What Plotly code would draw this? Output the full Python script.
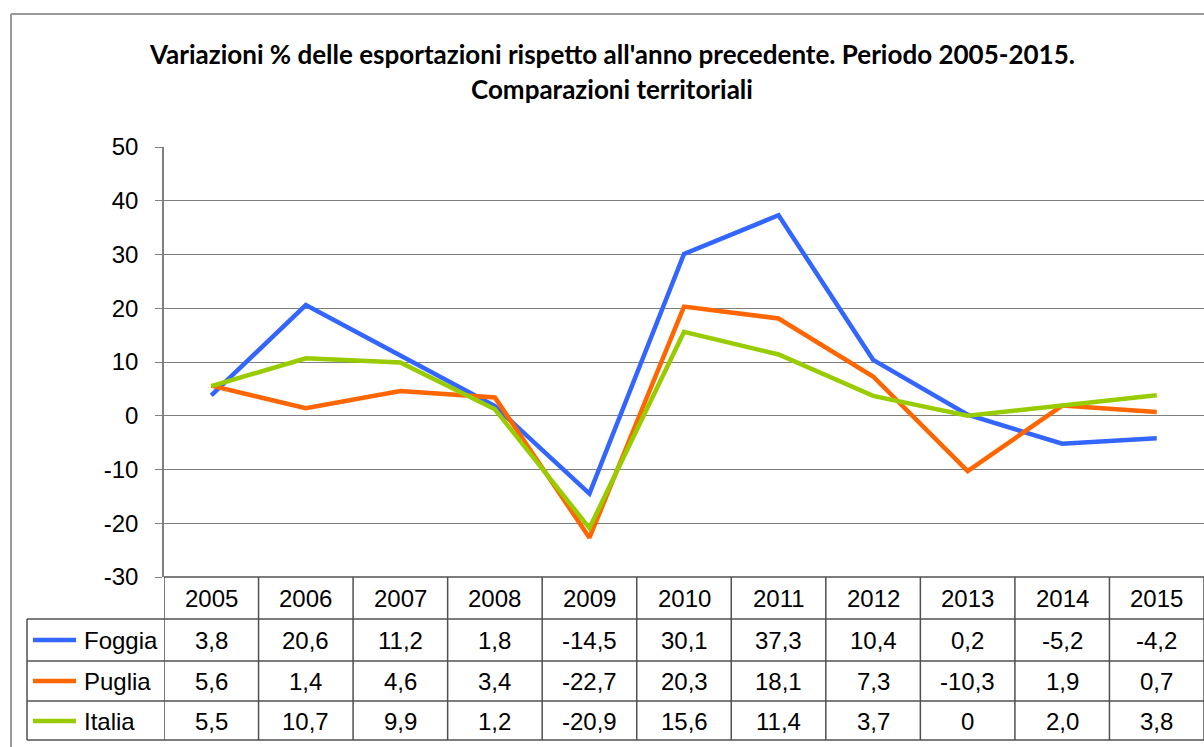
import plotly.graph_objects as go

years = [2005, 2006, 2007, 2008, 2009, 2010, 2011, 2012, 2013, 2014, 2015]
foggia = [3.8, 20.6, 11.2, 1.8, -14.5, 30.1, 37.3, 10.4, 0.2, -5.2, -4.2]
puglia = [5.6, 1.4, 4.6, 3.4, -22.7, 20.3, 18.1, 7.3, -10.3, 1.9, 0.7]
italia = [5.5, 10.7, 9.9, 1.2, -20.9, 15.6, 11.4, 3.7, 0, 2.0, 3.8]
series_names = ["Foggia", "Puglia", "Italia"]
series_colors = ["#3366FF", "#FF6600", "#99CC00"]
y_ticks = [50, 40, 30, 20, 10, 0, -10, -20, -30]
title1 = "Variazioni % delle esportazioni rispetto all'anno precedente. Periodo 2005-2015."
title2 = "Comparazioni territoriali"

W, H = 1204, 747
L, R, T, B = 164, 1204, 147, 577


def py(p):
    return (B - p) / (B - T)


def px(p):
    return (p - L) / (R - L)


def fmt(v):
    if v == 0:
        return "0"
    return ("%.1f" % v).replace(".", ",")


fig = go.Figure()
series = [foggia, puglia, italia]
for name, vals, col in zip(series_names, series, series_colors):
    fig.add_trace(go.Scatter(x=years, y=vals, mode="lines", name=name,
                             line=dict(color=col, width=4.5), showlegend=False))

shapes = []
annotations = []
txtfont = dict(family="Liberation Sans, Arial, sans-serif", size=24, color="#000")
linecol = "#505050"

# outer frame
shapes.append(dict(type="line", xref="paper", yref="paper", x0=px(11), x1=px(1210),
                   y0=py(14), y1=py(14), line=dict(color="#9a9a9a", width=2)))
shapes.append(dict(type="line", xref="paper", yref="paper", x0=px(11), x1=px(11),
                   y0=py(14), y1=py(760), line=dict(color="#9a9a9a", width=2)))

# table rows (pixel positions)
row_lines = [577, 619, 661, 701, 740]
row_centers = [598, 640, 681, 721]
shapes.append(dict(type="line", xref="paper", yref="paper", x0=0, x1=1,
                   y0=py(row_lines[0]), y1=py(row_lines[0]), line=dict(color=linecol, width=1.5)))
for yl in row_lines[1:]:
    shapes.append(dict(type="line", xref="paper", yref="paper", x0=px(27), x1=1,
                       y0=py(yl), y1=py(yl), line=dict(color=linecol, width=1.5)))
for i in range(len(years) + 1):
    xv = years[0] - 0.5 + i
    shapes.append(dict(type="line", xref="x", yref="paper", x0=xv, x1=xv,
                       y0=py(577), y1=py(740), line=dict(color=linecol, width=1.5)))
shapes.append(dict(type="line", xref="paper", yref="paper", x0=px(27), x1=px(27),
                   y0=py(619), y1=py(740), line=dict(color=linecol, width=1.5)))

# header
for yr in years:
    annotations.append(dict(x=yr, xref="x", y=py(row_centers[0]), yref="paper",
                            text=str(yr), showarrow=False, font=txtfont,
                            xanchor="center", yanchor="middle"))
# rows
for r, (name, vals, col) in enumerate(zip(series_names, series, series_colors)):
    yc = py(row_centers[r + 1])
    shapes.append(dict(type="line", xref="paper", yref="paper", x0=px(33), x1=px(76),
                       y0=yc, y1=yc, line=dict(color=col, width=4.5)))
    annotations.append(dict(x=px(82), xref="paper", y=yc, yref="paper", text=name,
                            showarrow=False, font=txtfont, xanchor="left", yanchor="middle"))
    for yr, v in zip(years, vals):
        annotations.append(dict(x=yr, xref="x", y=yc, yref="paper", text=fmt(v),
                                showarrow=False, font=txtfont, xanchor="center", yanchor="middle"))

# title
tfont = dict(family="Lato, Carlito, sans-serif", size=26, color="#000", weight="bold")
annotations.append(dict(x=px(612), xref="paper", y=py(54), yref="paper", text="<b>%s</b>" % title1,
                        showarrow=False, font=tfont, xanchor="center", yanchor="middle"))
annotations.append(dict(x=px(612), xref="paper", y=py(89), yref="paper", text="<b>%s</b>" % title2,
                        showarrow=False, font=tfont, xanchor="center", yanchor="middle"))

fig.update_layout(
    width=W, height=H,
    margin=dict(l=L, r=W - R, t=T, b=H - B, pad=0),
    paper_bgcolor="white", plot_bgcolor="white",
    shapes=shapes, annotations=annotations,
    showlegend=False,
)
fig.update_xaxes(range=[years[0] - 0.5, years[-1] + 0.5], showticklabels=False,
                 showgrid=False, zeroline=False, showline=False, ticks="")
fig.update_yaxes(range=[-30, 50], tickvals=y_ticks, ticktext=[str(t) for t in y_ticks],
                 showgrid=True, gridcolor="#7f7f7f", gridwidth=1, zeroline=False,
                 showline=True, linecolor="#7f7f7f", linewidth=1.5,
                 ticks="outside", ticklen=7, tickcolor="#7f7f7f",
                 tickfont=dict(family="Liberation Sans, Arial, sans-serif", size=24, color="#000"),
                 ticklabelstandoff=12)

fig.write_html("out.html", config={"displayModeBar": False},
               post_script="document.body.style.margin='0';document.body.style.overflow='hidden';")
